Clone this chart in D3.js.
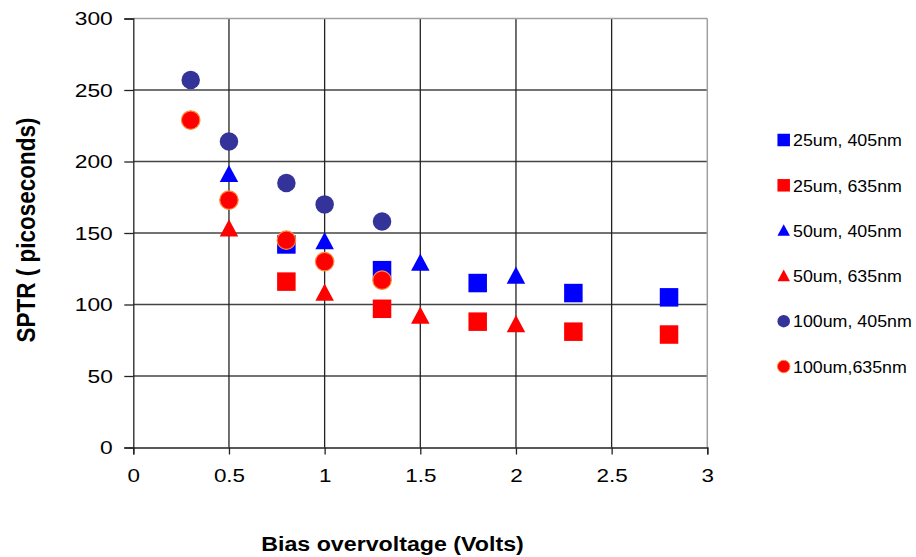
<!DOCTYPE html>
<html><head><meta charset="utf-8">
<script src="https://cdn.jsdelivr.net/npm/d3@7"></script>
<style>body{margin:0;background:#fff;} text{font-family:"Liberation Sans",Arial,sans-serif;fill:#000;}</style>
</head><body>
<svg id="chart" width="916" height="557"></svg>
<script>
const xTicks = [0, 0.5, 1, 1.5, 2, 2.5, 3];
const yTicks = [0, 50, 100, 150, 200, 250, 300];
const seriesNames = ["25um, 405nm", "25um, 635nm", "50um, 405nm", "50um, 635nm", "100um, 405nm", "100um,635nm"];
const x25 = [0.8, 1.3, 1.8, 2.3, 2.8];
const y25_405 = [142, 124, 115, 108, 105];
const y25_635 = [116, 97, 88, 81, 79];
const x50 = [0.5, 1.0, 1.5, 2.0];
const y50_405 = [191, 144, 129, 120];
const y50_635 = [153, 108, 92, 86];
const x100 = [0.3, 0.5, 0.8, 1.0, 1.3];
const y100_405 = [257, 214, 185, 170, 158];
const y100_635 = [229, 173, 145, 130, 117];

const series = [
  {name: seriesNames[0], xs: x25, ys: y25_405, shape: "square", fill: "#0000ff", stroke: "none"},
  {name: seriesNames[1], xs: x25, ys: y25_635, shape: "square", fill: "#ff0000", stroke: "none"},
  {name: seriesNames[2], xs: x50, ys: y50_405, shape: "triangle", fill: "#0000ff", stroke: "none"},
  {name: seriesNames[3], xs: x50, ys: y50_635, shape: "triangle", fill: "#ff0000", stroke: "none"},
  {name: seriesNames[4], xs: x100, ys: y100_405, shape: "circle", fill: "#333399", stroke: "none"},
  {name: seriesNames[5], xs: x100, ys: y100_635, shape: "circle", fill: "#ff0000", stroke: "#ff8a3a"}
];

const svg = d3.select("#chart");
const L = 133.3, R = 707.3, T = 18.5, B = 447.5;
const x = d3.scaleLinear().domain([0, 3]).range([L, R]);
const y = d3.scaleLinear().domain([0, 300]).range([B, T]);

// grid
const g = svg.append("g");
g.selectAll("line.hg").data(yTicks.filter(v => v > 0 && v < 300)).enter().append("line")
  .attr("x1", L).attr("x2", R).attr("y1", d => y(d)).attr("y2", d => y(d))
  .attr("stroke", "#444").attr("stroke-width", 1.3);
g.selectAll("line.vg").data(xTicks.filter(v => v > 0 && v < 3)).enter().append("line")
  .attr("y1", T).attr("y2", B).attr("x1", d => x(d)).attr("x2", d => x(d))
  .attr("stroke", "#222").attr("stroke-width", 1.3);
// top & right border
g.append("line").attr("x1", L).attr("x2", R).attr("y1", T).attr("y2", T).attr("stroke", "#a0a0a0").attr("stroke-width", 1.5);
g.append("line").attr("x1", R).attr("x2", R).attr("y1", T).attr("y2", B).attr("stroke", "#a0a0a0").attr("stroke-width", 1.5);

// axes
const yAxis = d3.axisLeft(y).tickValues(yTicks).tickSize(9).tickPadding(11.5).tickFormat(d3.format("d"));
const xAxis = d3.axisBottom(x).tickValues(xTicks).tickSize(7).tickPadding(13.5).tickFormat(d => String(d));
const ya = svg.append("g").attr("transform", `translate(${L},0)`).call(yAxis);
const xa = svg.append("g").attr("transform", `translate(0,${B})`).call(xAxis);
[ya, xa].forEach(a => {
  a.select(".domain").attr("stroke", "#222").attr("stroke-width", 1.3);
  a.selectAll(".tick line").attr("stroke", "#222").attr("stroke-width", 1.3);
  a.selectAll(".tick text").attr("font-size", 19).attr("font-family", '"Liberation Sans",Arial,sans-serif').attr("fill", "#111");
});
ya.selectAll(".tick text").each(function() {
  const t = d3.select(this);
  const xx = +t.attr("x");
  t.attr("x", null).attr("transform", `translate(${xx},0) scale(1.2,1)`);
});
xa.selectAll(".tick text").each(function() {
  const t = d3.select(this);
  const yy = +t.attr("y");
  t.attr("y", null).attr("dy", null).attr("transform", `translate(0,${yy}) scale(1.18,1)`).attr("dominant-baseline", "hanging");
});

// titles
svg.append("text").attr("transform", "translate(392.5,550.5) scale(1.19,1)")
  .attr("text-anchor", "middle").attr("font-weight", "bold").attr("font-size", 19.5).attr("fill", "#111")
  .text("Bias overvoltage (Volts)");
svg.append("text").attr("transform", "translate(35,230) rotate(-90) scale(1,1.15)")
  .attr("text-anchor", "middle").attr("font-weight", "bold").attr("font-size", 22.5).attr("fill", "#111")
  .text("SPTR ( picoseconds)");

// markers
function drawShape(sel, shape, size) {
  if (shape === "square") {
    sel.append("rect").attr("x", -size/2).attr("y", -size/2).attr("width", size).attr("height", size);
  } else if (shape === "triangle") {
    const h = size * 0.93;
    sel.append("path").attr("d", `M0,${-h*0.55}L${size/2},${h*0.45}L${-size/2},${h*0.45}Z`);
  } else {
    sel.append("circle").attr("r", size/2);
  }
}
const plot = svg.append("g");
series.forEach(s => {
  s.xs.forEach((xv, i) => {
    const m = plot.append("g").attr("transform", `translate(${x(xv)},${y(s.ys[i])})`);
    drawShape(m, s.shape, 18.5);
    m.selectAll("*").attr("fill", s.fill).attr("stroke", s.stroke).attr("stroke-width", s.stroke === "none" ? 0 : 1.2);
  });
});

// legend
const leg = svg.append("g");
series.forEach((s, i) => {
  const cy = 140 + i * 45.3;
  const m = leg.append("g").attr("transform", `translate(783.7,${cy})`);
  drawShape(m, s.shape, 12.5);
  m.selectAll("*").attr("fill", s.fill).attr("stroke", s.stroke).attr("stroke-width", s.stroke === "none" ? 0 : 1);
  leg.append("text").attr("transform", `translate(793,${cy + 6.2}) scale(1.08,1)`)
    .attr("font-size", 16.5).attr("fill", "#111").text(s.name);
});
</script>
</body></html>
